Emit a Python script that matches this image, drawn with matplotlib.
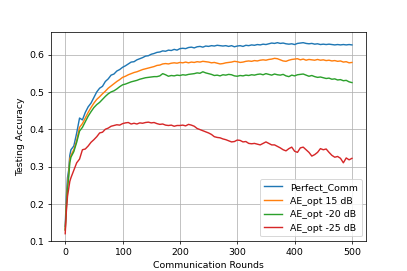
import matplotlib
matplotlib.use("Agg")
import matplotlib.pyplot as plt

rounds = [0, 2, 4, 6, 8] + list(range(10, 501, 5))

perfect = [0.14, 0.22, 0.27, 0.29, 0.33, 0.345,
           0.355, 0.39, 0.43, 0.425, 0.445, 0.46, 0.47, 0.485, 0.50, 0.51, 0.515, 0.528, 0.535, 0.545, 0.548, 0.556, 0.56, 0.566,
           0.57, 0.575, 0.58, 0.581, 0.586, 0.589, 0.592, 0.596, 0.597, 0.601, 0.603, 0.606, 0.607, 0.61, 0.609, 0.612, 0.611, 0.614, 0.612, 0.616,
           0.617, 0.616, 0.619, 0.62, 0.618, 0.621, 0.622, 0.62, 0.623, 0.622, 0.624, 0.623, 0.625, 0.624, 0.623, 0.624, 0.622, 0.624, 0.621, 0.623,
           0.624, 0.622, 0.625, 0.624, 0.626, 0.625, 0.627, 0.626, 0.628, 0.627, 0.629, 0.631, 0.63, 0.632, 0.63, 0.631, 0.629, 0.628, 0.629, 0.627,
           0.63, 0.631, 0.632, 0.63, 0.629, 0.63, 0.628, 0.629, 0.627, 0.628, 0.627, 0.628, 0.627, 0.626, 0.627, 0.626, 0.627, 0.626, 0.627, 0.626]

ae_15 = [0.13, 0.20, 0.25, 0.28, 0.32, 0.33,
         0.345, 0.37, 0.405, 0.415, 0.43, 0.445, 0.458, 0.47, 0.48, 0.487, 0.495, 0.502, 0.51, 0.516, 0.522, 0.528, 0.533, 0.539,
         0.542, 0.546, 0.549, 0.552, 0.554, 0.557, 0.56, 0.562, 0.564, 0.566, 0.568, 0.571, 0.572, 0.575, 0.576, 0.575, 0.577, 0.578, 0.577, 0.579,
         0.578, 0.58, 0.578, 0.58, 0.579, 0.581, 0.58, 0.582, 0.581, 0.58, 0.578, 0.579, 0.577, 0.575, 0.576, 0.578, 0.579, 0.58, 0.582, 0.581,
         0.579, 0.58, 0.582, 0.583, 0.582, 0.584, 0.583, 0.585, 0.586, 0.585, 0.587, 0.588, 0.59, 0.589, 0.586, 0.583, 0.582, 0.585, 0.587, 0.588,
         0.589, 0.586, 0.588, 0.585, 0.587, 0.586, 0.585, 0.587, 0.585, 0.586, 0.584, 0.585, 0.583, 0.584, 0.582, 0.583, 0.58, 0.581, 0.578, 0.579]

ae_m20 = [0.13, 0.19, 0.24, 0.27, 0.31, 0.325,
          0.34, 0.365, 0.395, 0.405, 0.42, 0.435, 0.447, 0.458, 0.466, 0.472, 0.48, 0.488, 0.495, 0.50, 0.503, 0.508, 0.514, 0.519,
          0.521, 0.524, 0.527, 0.529, 0.531, 0.534, 0.536, 0.538, 0.539, 0.54, 0.541, 0.541, 0.543, 0.549, 0.546, 0.542, 0.544, 0.543, 0.545, 0.544,
          0.546, 0.545, 0.547, 0.548, 0.549, 0.551, 0.55, 0.554, 0.551, 0.549, 0.547, 0.544, 0.545, 0.543, 0.546, 0.545, 0.547, 0.546, 0.543, 0.542,
          0.544, 0.543, 0.545, 0.544, 0.546, 0.545, 0.547, 0.548, 0.546, 0.549, 0.547, 0.545, 0.548, 0.546, 0.545, 0.547, 0.543, 0.541, 0.545, 0.543,
          0.546, 0.547, 0.548, 0.545, 0.542, 0.544, 0.541, 0.539, 0.54, 0.538, 0.536, 0.537, 0.534, 0.535, 0.532, 0.533, 0.53, 0.531, 0.527, 0.525]

ae_m25 = [0.12, 0.18, 0.22, 0.24, 0.26, 0.27,
          0.29, 0.31, 0.32, 0.345, 0.347, 0.355, 0.365, 0.372, 0.38, 0.39, 0.392, 0.40, 0.403, 0.408, 0.41, 0.412, 0.411, 0.415,
          0.417, 0.418, 0.414, 0.416, 0.414, 0.417, 0.416, 0.418, 0.419, 0.417, 0.418, 0.415, 0.413, 0.414, 0.411, 0.41, 0.411, 0.408, 0.41, 0.41,
          0.411, 0.409, 0.413, 0.411, 0.408, 0.402, 0.399, 0.396, 0.393, 0.39, 0.386, 0.38, 0.378, 0.377, 0.374, 0.372, 0.369, 0.366, 0.367, 0.371,
          0.37, 0.366, 0.367, 0.362, 0.361, 0.362, 0.36, 0.358, 0.362, 0.366, 0.362, 0.358, 0.358, 0.354, 0.35, 0.345, 0.342, 0.348, 0.352, 0.341,
          0.338, 0.35, 0.352, 0.345, 0.338, 0.328, 0.332, 0.338, 0.348, 0.345, 0.347, 0.338, 0.33, 0.325, 0.327, 0.322, 0.31, 0.323, 0.318, 0.322]

labels = ["Perfect_Comm", "AE_opt 15 dB", "AE_opt -20 dB", "AE_opt -25 dB"]
series = [perfect, ae_15, ae_m20, ae_m25]

fig, ax = plt.subplots(figsize=(6, 4), dpi=407 / 6)
for s, lab in zip(series, labels):
    ax.plot(rounds, s, label=lab)
ax.set_xlabel("Communication Rounds")
ax.set_ylabel("Testing Accuracy")
ax.set_yticks([0.1, 0.2, 0.3, 0.4, 0.5, 0.6])
ax.set_xticks([0, 100, 200, 300, 400, 500])
ax.set_ylim(0.1, 0.66)
ax.grid(True)
ax.legend(loc="lower right")
fig.savefig("out.png", dpi=407 / 6)
